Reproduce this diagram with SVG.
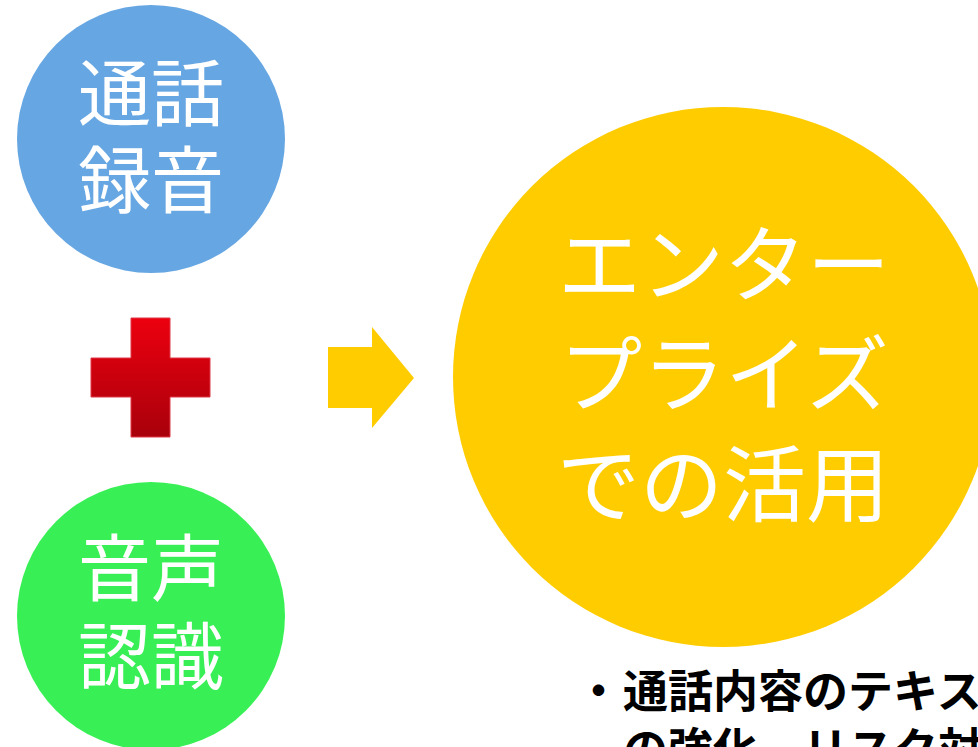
<svg xmlns="http://www.w3.org/2000/svg" width="978" height="747" viewBox="0 0 978 747">
<style>
.lbl{font-family:"Noto Sans CJK JP","Noto Sans CJK SC",sans-serif;fill:#ffffff;text-anchor:middle}
.sm{font-size:73px}
.lg{font-size:83px}
.body{font-family:"Noto Sans CJK JP","Noto Sans CJK SC",sans-serif;font-weight:bold;font-size:45px;fill:#000000}
</style>
<defs>
<linearGradient id="redg" x1="0" y1="0" x2="0" y2="1">
<stop offset="0" stop-color="#ec000f"/>
<stop offset="1" stop-color="#a8000b"/>
</linearGradient>
</defs>
<rect width="978" height="747" fill="#ffffff"/>
<g id="node-recording">
<circle cx="151" cy="139" r="134" fill="#66a6e2"/>
<text class="lbl sm" x="151" y="120">通話</text>
<text class="lbl sm" x="151" y="207">録音</text>
</g>
<g id="node-plus">
<path d="M131,318 H170 V358 H210 V397 H170 V437 H131 V397 H91 V358 H131 Z" fill="url(#redg)" stroke="#e03848" stroke-width="1"/>
</g>
<g id="node-recognition">
<circle cx="151" cy="616" r="134" fill="#38f055"/>
<text class="lbl sm" x="151" y="595">音声</text>
<text class="lbl sm" x="151" y="683">認識</text>
</g>
<g id="connectors">
<path d="M328,347 H372 V327 L414,378 L372,428 V408 H328 Z" fill="#ffcc00"/>
</g>
<g id="node-enterprise">
<circle cx="723" cy="377" r="270" fill="#ffcc00"/>
<text class="lbl lg" x="724" y="295">エンター</text>
<text class="lbl lg" x="724" y="405">プライズ</text>
<text class="lbl lg" x="723" y="515">での活用</text>
</g>
<g id="notes">
<text class="body" x="576" y="708">・</text>
<text class="body" x="623" y="708">通話内容のテキスト化</text>
<text class="body" x="623" y="766">の強化、リスク対策</text>
</g>
</svg>
